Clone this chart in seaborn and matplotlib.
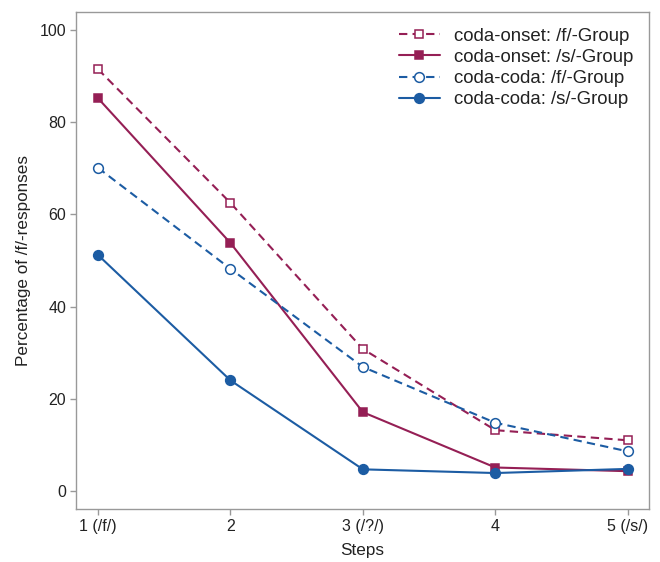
import matplotlib
matplotlib.use("Agg")
import matplotlib.pyplot as plt
import seaborn as sns
import pandas as pd

steps = [1, 2, 3, 4, 5]
step_labels = ["1 (/f/)", "2", "3 (/?/)", "4", "5 (/s/)"]
onset_f = [91.5, 62.5, 30.8, 13.2, 11.0]
onset_s = [85.2, 53.8, 17.1, 5.1, 4.3]
coda_f = [70.1, 48.2, 26.9, 14.8, 8.6]
coda_s = [51.2, 24.0, 4.7, 3.9, 4.8]
series_names = ["coda-onset: /f/-Group", "coda-onset: /s/-Group",
                "coda-coda: /f/-Group", "coda-coda: /s/-Group"]

sns.set_theme(style="white")
plt.rcParams["font.family"] = ["Liberation Sans", "DejaVu Sans"]

crimson = "#951f55"
blue = "#1c5ca3"

fig = plt.figure(figsize=(6.6, 5.62), dpi=100)
ax = fig.add_axes([76 / 660, 1 - 509 / 562, (649 - 76) / 660, (509 - 12) / 562])

specs = [
    (onset_f, series_names[0], crimson, "s", (0, (4, 2.5)), True),
    (onset_s, series_names[1], crimson, "s", "-", False),
    (coda_f, series_names[2], blue, "o", (0, (4, 2.5)), True),
    (coda_s, series_names[3], blue, "o", "-", False),
]
for vals, name, col, mk, ls, hollow in specs:
    df = pd.DataFrame({"step": steps, "pct": vals})
    sns.lineplot(data=df, x="step", y="pct", ax=ax, color=col, linestyle=ls,
                 linewidth=1.5, marker=mk, markersize=7 if mk == "o" else 6.3,
                 markerfacecolor="white" if hollow else col,
                 markeredgecolor=col, markeredgewidth=1.1, label=name)

ax.set_xlim(0.834, 5.16)
ax.set_ylim(-3.9, 103.9)
ax.set_xticks(steps)
ax.set_xticklabels(step_labels)
ax.set_yticks([0, 20, 40, 60, 80, 100])
ax.tick_params(axis="both", labelsize=11.5, labelcolor="#222222",
               color="#999999", length=4, width=1, direction="out",
               bottom=True, left=True, pad=3)
for s in ax.spines.values():
    s.set_color("#999999")
    s.set_linewidth(1)
ax.set_xlabel("Steps", fontsize=12.3, labelpad=7, color="#222222")
ax.set_ylabel("Percentage of /f/-responses", fontsize=12.3, labelpad=6,
              color="#222222")

leg = ax.legend(loc="upper right", frameon=False,
                prop={"size": 13.4}, handlelength=2.2, handletextpad=0.75,
                labelspacing=0.22, borderaxespad=0.45, borderpad=0.4)
for t in leg.get_texts():
    t.set_color("#222222")
fig.savefig("out.png", dpi=100)
